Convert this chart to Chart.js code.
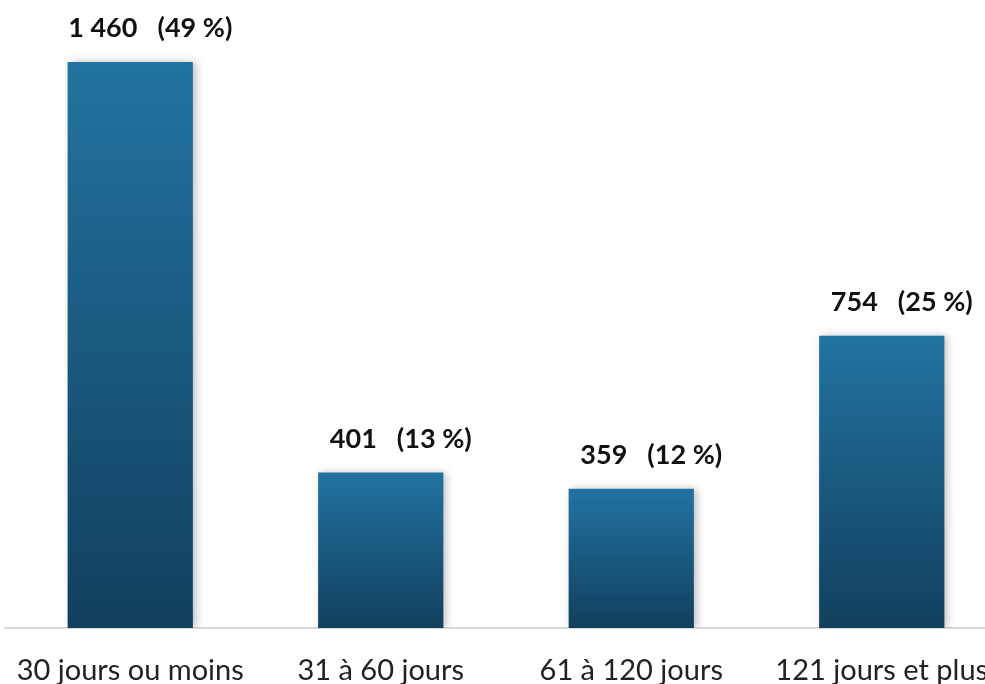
<!DOCTYPE html>
<html><head><meta charset="utf-8">
<script src="https://cdn.jsdelivr.net/npm/chart.js@4/dist/chart.umd.min.js"></script>
<style>
html,body{margin:0;padding:0;background:#fff;overflow:hidden;width:985px;height:684px;}
#wrap{position:absolute;left:0;top:0;width:1007px;height:684px;}
</style></head>
<body><div id="wrap"><canvas id="c" width="1007" height="684"></canvas></div>
<script>
const categories = ["30 jours ou moins", "31 à 60 jours", "61 à 120 jours", "121 jours et plus"];
const counts = [1460, 401, 359, 754];
const countLabels = ["1 460", "401", "359", "754"];
const percentLabels = ["(49 %)", "(13 %)", "(12 %)", "(25 %)"];

const topColor = "#2273a1";
const bottomColor = "#123f5d";

function barGradient(ctx){
  const chart = ctx.chart;
  if (!chart.chartArea || !chart.scales.y) return topColor;
  const y = chart.scales.y;
  const top = y.getPixelForValue(counts[ctx.dataIndex]);
  const bottom = y.getPixelForValue(0);
  const g = chart.ctx.createLinearGradient(0, top, 0, bottom);
  g.addColorStop(0, topColor);
  g.addColorStop(1, bottomColor);
  return g;
}

const shadowPlugin = {
  id: 'shadow',
  beforeDatasetsDraw(chart){ const c = chart.ctx; c.save(); c.shadowColor='rgba(0,0,0,0.25)'; c.shadowBlur=8; c.shadowOffsetX=3; c.shadowOffsetY=0; },
  afterDatasetsDraw(chart){ chart.ctx.restore(); }
};

const labelPlugin = {
  id: 'valueLabels',
  afterDatasetsDraw(chart){
    const c = chart.ctx;
    const meta = chart.getDatasetMeta(0);
    c.save();
    c.font = "bold 27px Lato, 'DejaVu Sans', sans-serif";
    c.fillStyle = "#111";
    c.textAlign = "center";
    c.textBaseline = "alphabetic";
    meta.data.forEach((bar, i) => {
      const txt = countLabels[i] + "\u2002 " + percentLabels[i];
      c.fillText(txt, bar.x + 20, bar.y - 25);
    });
    c.restore();
  }
};

new Chart(document.getElementById('c'), {
  type: 'bar',
  data: {
    labels: categories,
    datasets: [{
      data: counts,
      backgroundColor: barGradient,
      borderWidth: 0,
      barPercentage: 0.5,
      categoryPercentage: 1.0
    }]
  },
  options: {
    responsive: false,
    animation: false,
    devicePixelRatio: 1,
    layout: { padding: { left: 5, right: 0, top: 0, bottom: 0 } },
    plugins: { legend: { display: false }, tooltip: { enabled: false } },
    scales: {
      x: {
        grid: { display: false, drawTicks: false },
        border: { display: true, color: '#d9d9d9', width: 2 },
        ticks: {
          color: '#222',
          font: { family: "Lato, 'Open Sans', sans-serif", size: 29 },
          padding: 25,
          maxRotation: 0,
          autoSkip: false
        },
        afterFit(s){ s.height = 56; s.paddingLeft = 0; s.paddingRight = 0; }
      },
      y: {
        display: false,
        min: 0,
        max: 1620
      }
    }
  },
  plugins: [shadowPlugin, labelPlugin]
});
</script>
</body></html>
